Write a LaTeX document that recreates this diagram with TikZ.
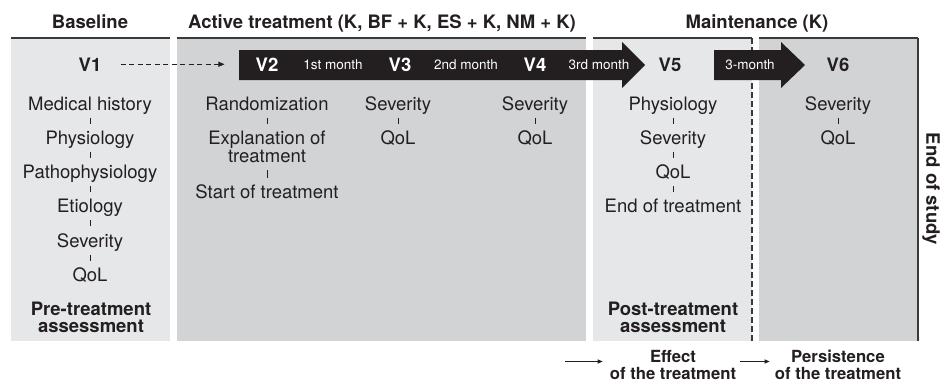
\documentclass[tikz,border=0pt]{standalone}
\usepackage{fontspec}
\setmainfont{TeX Gyre Heros}
\usetikzlibrary{positioning,arrows.meta}

\definecolor{panellight}{HTML}{E6E7E8}
\definecolor{paneldark}{HTML}{D1D3D4}
\definecolor{ink}{HTML}{231F20}
\definecolor{rulegray}{HTML}{3A3A3A}

\tikzset{
  item/.style={inner sep=0pt, outer ysep=7.5pt, text height=13.3pt, text depth=0pt,
    font=\fontsize{18.5}{18.2}\selectfont, text=ink},
  visit/.style={inner sep=0pt, anchor=base, font=\bfseries\fontsize{18.5}{18}\selectfont},
  month/.style={inner sep=0pt, anchor=base, text=white, font=\fontsize{13.5}{14}\selectfont},
  head/.style={inner sep=0pt, anchor=base, text=ink, font=\bfseries\fontsize{18.5}{18}\selectfont},
  note/.style={inner sep=0pt, anchor=base, align=center, text=ink,
    font=\bfseries\fontsize{18.5}{17.7}\selectfont},
  tick/.style={draw=ink, line width=0.9pt},
  paneltop/.style={draw=rulegray, line width=1.8pt},
  node distance=6pt
}

\begin{document}
\begin{tikzpicture}[x=1pt, y=-1pt]
  \useasboundingbox (0,0) rectangle (945,383);

  % Draw the four panels
  \fill[panellight] (11,38) rectangle (170,341);
  \fill[paneldark] (177,38) rectangle (586,341);
  \fill[panellight] (593,38) rectangle (752,341);
  \fill[paneldark] (759,38) rectangle (918,341);
  \draw[paneltop] (11,38) -- (170,38);
  \draw[paneltop] (177,38) -- (586,38);
  \draw[paneltop] (593,38) -- (752,38);
  \draw[paneltop] (759,38) -- (918,38);
  \draw[rulegray, line width=1.1pt, dash pattern=on 6pt off 3pt] (752,38) -- (752,341);
  \draw[rulegray, line width=1.3pt] (918,38) -- (918,341);

  % Phase titles
  \node[head] (base) at (90,28) {Baseline};
  \node[head] (active) at (382,28) {Active treatment (K, BF + K, ES + K, NM + K)};
  \node[head] (maint) at (757,28) {Maintenance (K)};
  \node[head, anchor=center, rotate=-90] (endstudy) at (931,189) {End of study};

  % Time line arrows
  \fill[ink] (239,50) -- (622,50) -- (622,42) -- (645,65) -- (622,88) -- (622,80) -- (239,80) -- cycle;
  \fill[ink] (714,50) -- (781,50) -- (781,42) -- (805,65) -- (781,88) -- (781,80) -- (714,80) -- cycle;

  \node[visit, text=ink] (v1) at (90,71) {V1};
  \node[visit, text=white] (v2) at (267,71) {V2};
  \node[visit, text=white] (v3) at (400,71) {V3};
  \node[visit, text=white] (v4) at (535,71) {V4};
  \node[visit, text=ink] (v5) at (670,71) {V5};
  \node[visit, text=ink] (v6) at (838,71) {V6};
  \node[month] (m1) at (333,69.5) {1st month};
  \node[month] (m2) at (466,69.5) {2nd month};
  \node[month] (m3) at (599,69.5) {3rd month};
  \node[month] (m4) at (750,69.5) {3-month};

  \draw[ink, line width=0.9pt, dash pattern=on 5pt off 3.5pt, -{Triangle[length=6pt,width=5pt]},
    shorten <=19pt, shorten >=31pt] (v1) -- (v2);

  % Visit 1
  \node[item, anchor=base] (hist) at (90,110) {Medical history};
  \node[item, below=of hist] (phys1) {Physiology};
  \node[item, below=of phys1] (patho) {Pathophysiology};
  \node[item, below=of patho] (etio) {Etiology};
  \node[item, below=of etio] (sev1) {Severity};
  \node[item, below=of sev1] (qol1) {QoL};
  \draw[tick] (hist) edge (phys1) (phys1) edge (patho) (patho) edge (etio)
    (etio) edge (sev1) (sev1) edge (qol1);
  \node[note] (pre) at (91,332.7) {Pre-treatment\\assessment};

  % Visit 2
  \node[item, anchor=base] (rand) at (267,110) {Randomization};
  \node[item, align=center, text height=31.5pt, below=of rand] (expl) {Explanation of\\treatment};
  \node[item, below=7.5pt of expl] (start) {Start of treatment};
  \draw[tick] (rand) edge (expl) (expl) edge (start);

  % Visits 3 and 4
  \node[item, anchor=base] (sev3) at (398,110) {Severity};
  \node[item, below=of sev3] (qol3) {QoL};
  \node[item, anchor=base] (sev4) at (535,110) {Severity};
  \node[item, below=of sev4] (qol4) {QoL};
  \draw[tick] (sev3) edge (qol3) (sev4) edge (qol4);

  % Visit 5
  \node[item, anchor=base] (phys5) at (673,110) {Physiology};
  \node[item, below=of phys5] (sev5) {Severity};
  \node[item, below=of sev5] (qol5) {QoL};
  \node[item, below=of qol5] (endtr) {End of treatment};
  \draw[tick] (phys5) edge (sev5) (sev5) edge (qol5) (qol5) edge (endtr);
  \node[note] (post) at (673,332.7) {Post-treatment\\assessment};

  % Visit 6
  \node[item, anchor=base] (sev6) at (838,110) {Severity};
  \node[item, below=of sev6] (qol6) {QoL};
  \draw[tick] (sev6) edge (qol6);

  % Outcomes
  \node[note, font=\bfseries\fontsize{16.7}{17.3}\selectfont] (effect) at (673,379.5) {Effect\\of the treatment};
  \node[note, font=\bfseries\fontsize{16.7}{17.3}\selectfont] (persist) at (838,379.5) {Persistence\\of the treatment};
  \coordinate (effin) at (565,361.5);
  \coordinate (persin) at (740,361.5);
  \draw[ink, line width=1pt, -{Triangle[length=5pt,width=4pt]}, shorten >=7pt] (effin) -- (effin -| effect.west);
  \draw[ink, line width=1pt, -{Triangle[length=5pt,width=4pt]}, shorten >=5pt] (persin) -- (persin -| persist.west);
\end{tikzpicture}
\end{document}
